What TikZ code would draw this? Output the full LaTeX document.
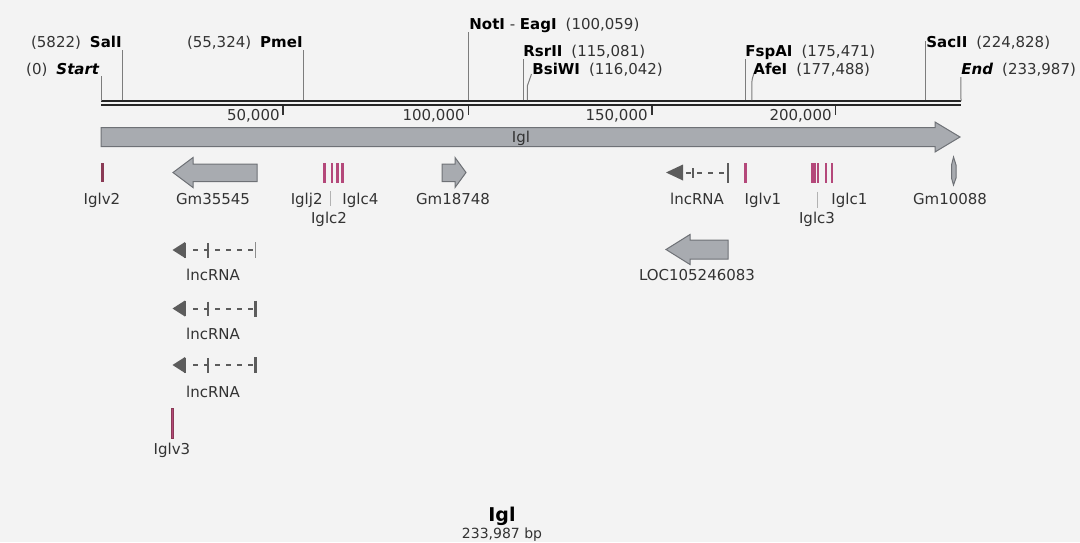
\documentclass[tikz,border=0pt]{standalone}
\usepackage{fontspec}
\setmainfont{DejaVu Sans}
\usepackage{tikz}
\usetikzlibrary{positioning,calc}
\definecolor{pagebg}{HTML}{F3F3F3}
\definecolor{ink}{HTML}{333333}
\definecolor{genefill}{HTML}{A8ABB0}
\definecolor{geneline}{HTML}{6E7176}
\definecolor{exon}{HTML}{B4487A}
\definecolor{exondark}{HTML}{8A3A55}
\definecolor{ncgray}{HTML}{5C5C5C}
\definecolor{siteline}{HTML}{7C7C7C}

\begin{document}
\begin{tikzpicture}[x=0.5pt,y=-0.5pt,
  lbl/.style={font=\fontsize{7.5}{9}\selectfont,text=ink,inner sep=0pt},
  site/.style={draw=siteline,line width=0.5pt},
  axisline/.style={draw=black!85,line width=1pt},
  tick/.style={draw=black!80,line width=0.6pt},
  gene/.style={draw=geneline,fill=genefill,line width=0.5pt},
  seg/.style={fill=exon,draw=none},
  lead/.style={draw=black!30,line width=0.5pt},
  nc/.style={draw=ncgray,line width=1pt},
  ncdash/.style={draw=ncgray,line width=1pt,dash pattern=on 2.5pt off 3pt}
]
\useasboundingbox[fill=pagebg] (0,0) rectangle (1080,542);

% sequence axis
\coordinate (start) at (101,101);
\coordinate (end) at (961,101);
\draw[axisline] (start) -- (end);
\draw[axisline] ($(start)+(0,3.5)$) -- ($(end)+(0,3.5)$);

% scale ticks
\node[lbl,anchor=base east] (t50) at (280,120.5) {50,000};
\node[lbl,anchor=base east] (t100) at (465,120.5) {100,000};
\node[lbl,anchor=base east] (t150) at (648,120.5) {150,000};
\node[lbl,anchor=base east] (t200) at (832,120.5) {200,000};
\draw[tick] (283,106) -- (283,115);
\draw[tick] (468.5,106) -- (468.5,115);
\draw[tick] (652,106) -- (652,115);
\draw[tick] (835.5,106) -- (835.5,115);

% restriction sites
\node[lbl,anchor=base east] (startlbl) at (100,74.5) {(0)\hspace{0.6em}\textcolor{black}{\textbf{\textit{Start}}}};
\node[lbl,anchor=base east] (sall) at (122,47.5) {(5822)\hspace{0.6em}\textcolor{black}{\textbf{SalI}}};
\node[lbl,anchor=base east] (pmel) at (303,47.5) {(55,324)\hspace{0.6em}\textcolor{black}{\textbf{PmeI}}};
\node[lbl,anchor=base west] (notl) at (469,29.5) {\textcolor{black}{\textbf{NotI}} - \textcolor{black}{\textbf{EagI}}\hspace{0.6em}(100,059)};
\node[lbl,anchor=base west] (rsrl) at (523,56.5) {\textcolor{black}{\textbf{RsrII}}\hspace{0.6em}(115,081)};
\node[lbl,anchor=base west] (bsil) at (532,74.5) {\textcolor{black}{\textbf{BsiWI}}\hspace{0.6em}(116,042)};
\node[lbl,anchor=base west] (fspl) at (745,56.5) {\textcolor{black}{\textbf{FspAI}}\hspace{0.6em}(175,471)};
\node[lbl,anchor=base west] (afel) at (753,74.5) {\textcolor{black}{\textbf{AfeI}}\hspace{0.6em}(177,488)};
\node[lbl,anchor=base west] (sacl) at (926,47.5) {\textcolor{black}{\textbf{SacII}}\hspace{0.6em}(224,828)};
\node[lbl,anchor=base west] (endlbl) at (961,74.5) {\textcolor{black}{\textbf{\textit{End}}}\hspace{0.6em}(233,987)};
\draw[site] (start) -- (101,76);
\draw[site] (122.4,100) -- (122.4,50);
\draw[site] (303.8,100) -- (303.8,50);
\draw[site] (468.7,100) -- (468.7,32);
\draw[site] (523.8,100) -- (523.8,59);
\draw[site] (527.3,100) -- (527.3,86) -- (531.5,74);
\draw[site] (745.3,100) -- (745.3,59);
\draw[site] (751.8,100) -- (751.8,88) .. controls (751.8,80) .. (753.8,74);
\draw[site] (925.8,100) -- (925.8,41);
\draw[site] (end) -- (960.8,77);

% Igl region
\draw[gene] (101,127.5) -- (935,127.5) -- (935,122) -- (960,137) -- (935,152)
  -- (935,146.5) -- (101,146.5) -- cycle;
\node[lbl,anchor=base] (igl) at (521,142) {Igl};

% first row of features
\fill[exondark] (100.5,163) rectangle (103.5,182);
\node[lbl,anchor=base] (iglv2) at (102,204.5) {Iglv2};
\draw[gene] (173,172.5) -- (193,157.5) -- (193,164) -- (257,164) -- (257,181.5)
  -- (193,181.5) -- (193,187.5) -- cycle;
\node[lbl,anchor=base] (gm35545) at (213,204.5) {Gm35545};
\fill[seg] (323.3,163) rectangle (325.7,183);
\fill[seg] (330.8,163) rectangle (333.2,183);
\fill[seg] (336.3,163) rectangle (338.7,183);
\fill[seg] (341.3,163) rectangle (343.7,183);
\node[lbl,anchor=base east] (iglj2) at (323,204.5) {Iglj2};
\node[lbl,anchor=base west] (iglc4) at (342,204.5) {Iglc4};
\node[lbl,anchor=base] (iglc2) at (329,223) {Iglc2};
\draw[lead] (330,191) -- (330,206);
\draw[gene] (442,164) -- (455,164) -- (455,157.5) -- (466,172.5) -- (455,187.5)
  -- (455,181.5) -- (442,181.5) -- cycle;
\node[lbl,anchor=base] (gm18748) at (453,204.5) {Gm18748};

\fill[ncgray] (666,172.5) -- (683,164.5) -- (683,180.5) -- cycle;
\draw[ncdash] (686,172.5) -- (726,172.5);
\draw[draw=ncgray,line width=0.6pt] (693,168) -- (693,178);
\draw[draw=ncgray,line width=0.6pt] (728,163) -- (728,182.5);
\node[lbl,anchor=base] (lnc0) at (697,204.5) {lncRNA};
\fill[seg] (744,163) rectangle (746.6,183);
\node[lbl,anchor=base] (iglv1) at (763,204.5) {Iglv1};
\fill[seg] (811.2,163) rectangle (813.6,183);
\fill[seg] (814,163) rectangle (816.4,183);
\fill[seg] (816.8,163) rectangle (819.2,183);
\fill[seg] (825,163) rectangle (827.4,183);
\fill[seg] (830.7,163) rectangle (833.1,183);
\node[lbl,anchor=base west] (iglc1) at (831,204.5) {Iglc1};
\node[lbl,anchor=base] (iglc3) at (817,223) {Iglc3};
\draw[lead] (817,191.5) -- (817,208);
\draw[gene] (953.5,157) -- (956,165) -- (956,178) -- (953.5,185) -- (951.5,178)
  -- (951.5,165) -- cycle;
\node[lbl,anchor=base] (gm10088) at (950,204.5) {Gm10088};

% second row of features
\fill[ncgray] (172.5,250) -- (185,242) -- (185,258) -- cycle;
\draw[nc] (185,242.5) -- (185,257.5);
\draw[ncdash] (193,250) -- (254,250);
\draw[nc] (207.7,243) -- (207.7,257.5);
\draw[draw=ncgray!70,line width=0.6pt] (255.7,242) -- (255.7,258);
\node[lbl,anchor=base] (lnc1) at (213,280.5) {lncRNA};

\fill[ncgray] (172.5,308.5) -- (185,300.5) -- (185,316.5) -- cycle;
\draw[nc] (185,301) -- (185,316);
\draw[ncdash] (193,308.5) -- (254,308.5);
\draw[nc] (207.7,301.5) -- (207.7,316);
\draw[nc,line width=1.3pt] (255.7,300.5) -- (255.7,316.5);
\node[lbl,anchor=base] (lnc2) at (213,339.5) {lncRNA};

\fill[ncgray] (172.5,365) -- (185,357) -- (185,373) -- cycle;
\draw[nc] (185,357.5) -- (185,372.5);
\draw[ncdash] (193,365) -- (254,365);
\draw[nc] (207.7,358) -- (207.7,372.5);
\draw[nc,line width=1.3pt] (255.7,357) -- (255.7,373);
\node[lbl,anchor=base] (lnc3) at (213,397.5) {lncRNA};

\filldraw[fill=exon,draw=exondark,line width=0.3pt] (171,408) rectangle (173.5,438);
\node[lbl,anchor=base] (iglv3) at (172,454.5) {Iglv3};

\draw[gene] (666,249.5) -- (690,234.5) -- (690,240) -- (728,240) -- (728,259)
  -- (690,259) -- (690,264.5) -- cycle;
\node[lbl,anchor=base] (loc) at (697,280.5) {LOC105246083};

% title
\node[lbl,anchor=base,text=black,font=\fontsize{9.5}{11}\selectfont\bfseries] (title) at (502,521) {Igl};
\node[lbl,anchor=base,font=\fontsize{7}{8}\selectfont] (size) at (502,538) {233,987 bp};
\end{tikzpicture}
\end{document}
